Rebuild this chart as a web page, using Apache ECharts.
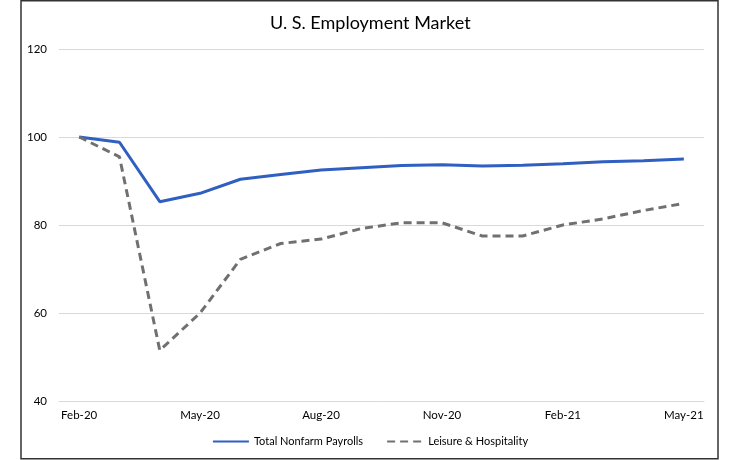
<!DOCTYPE html>
<html><head><meta charset="utf-8">
<script src="https://cdn.jsdelivr.net/npm/echarts@6/dist/echarts.min.js"></script>
<style>html,body{margin:0;padding:0;background:#fff}#c{width:740px;height:460px}</style>
</head><body><div id="c"></div>
<script>
const months = ['Feb-20','Mar-20','Apr-20','May-20','Jun-20','Jul-20','Aug-20','Sep-20','Oct-20','Nov-20','Dec-20','Jan-21','Feb-21','Mar-21','Apr-21','May-21'];
const totalNonfarm = [100, 98.8, 85.3, 87.2, 90.4, 91.5, 92.5, 93.0, 93.5, 93.7, 93.4, 93.6, 93.9, 94.4, 94.6, 95.0];
const leisureHosp = [100, 95.5, 51.5, 60.0, 72.2, 75.8, 76.8, 79.2, 80.5, 80.5, 77.5, 77.5, 80.0, 81.4, 83.3, 84.9];
const yTicks = {min: 40, max: 120, interval: 20};
const font = 'Lato, "Open Sans", sans-serif';

const chart = echarts.init(document.getElementById('c'), null, {renderer: 'canvas'});
chart.setOption({
  animation: false,
  backgroundColor: '#fff',
  graphic: [{type: 'rect', shape: {x: 21, y: 0.75, width: 697, height: 458}, style: {fill: 'none', stroke: '#333', lineWidth: 1.5}, silent: true}],
  title: {text: 'U. S. Employment Market', left: 265, top: 9, textStyle: {fontFamily: font, fontSize: 18, fontWeight: 'normal', color: '#000'}},
  grid: {left: 59, right: 36, top: 49, bottom: 59},
  legend: {bottom: 8, left: 'center', itemWidth: 36, itemHeight: 12, itemGap: 23,
    itemStyle: {opacity: 0},
    textStyle: {fontFamily: font, fontSize: 11, color: '#000'},
    data: ['Total Nonfarm Payrolls', 'Leisure & Hospitality']},
  xAxis: {type: 'category', data: months, boundaryGap: true,
    axisLine: {lineStyle: {color: '#d9d9d9', width: 1}},
    axisTick: {interval: 2, length: 5, lineStyle: {color: '#d9d9d9'}},
    axisLabel: {interval: 2, margin: 8, fontFamily: font, fontSize: 11.5, color: '#000'}},
  yAxis: {type: 'value', min: yTicks.min, max: yTicks.max, interval: yTicks.interval,
    axisLine: {show: false}, axisTick: {show: false},
    splitLine: {lineStyle: {color: '#d9d9d9', width: 1}},
    axisLabel: {margin: 12, fontFamily: font, fontSize: 11.5, color: '#000'}},
  series: [
    {name: 'Total Nonfarm Payrolls', type: 'line', data: totalNonfarm, symbol: 'none',
     lineStyle: {color: '#2f5fc1', width: 3}, itemStyle: {color: '#2f5fc1'}},
    {name: 'Leisure & Hospitality', type: 'line', data: leisureHosp, symbol: 'none',
     lineStyle: {color: '#707070', width: 3, type: [8, 5]}, itemStyle: {color: '#707070'}}
  ]
});
</script></body></html>
